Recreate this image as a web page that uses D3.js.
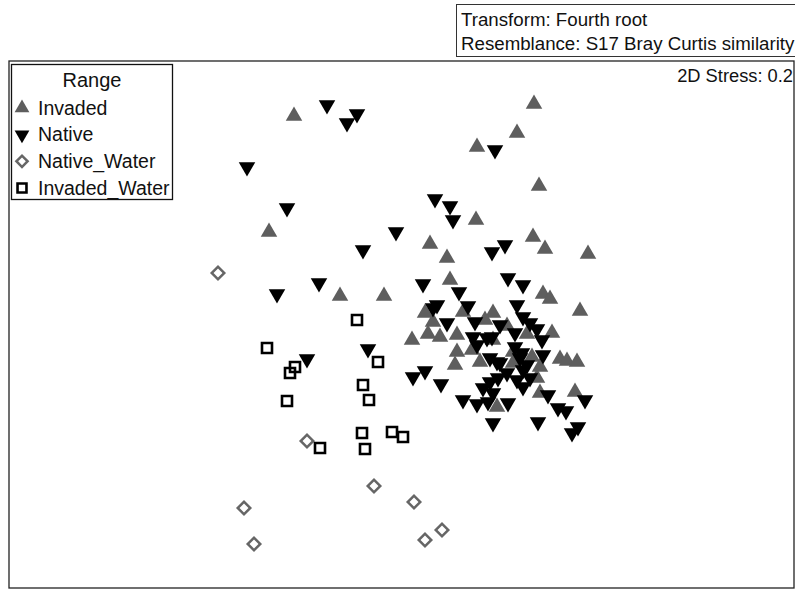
<!DOCTYPE html>
<html>
<head>
<meta charset="utf-8">
<script src="https://cdn.jsdelivr.net/npm/d3@7"></script>
<style>
  body { margin: 0; background: white; }
  svg text { font-family: "Liberation Sans", Arial, Helvetica, sans-serif; fill: #111; }
</style>
</head>
<body>
<svg id="plot"></svg>
<script>
// NMDS ordination coordinates [MDS1, MDS2]
const invaded = [
  [-1.06, 1.84], [1.34, 1.96], [1.17, 1.67], [0.77, 1.53], [1.39, 1.14], [-1.31, 0.68],
  [0.76, 0.80], [0.30, 0.56], [0.47, 0.42], [1.33, 0.63], [1.45, 0.51], [1.88, 0.46],
  [-0.60, 0.04], [-0.16, 0.04], [0.50, 0.20], [1.43, 0.06], [1.50, 0.01], [1.80, -0.11],
  [0.25, -0.13], [0.33, -0.22], [0.63, -0.12], [0.93, -0.13], [0.12, -0.40], [0.28, -0.34],
  [0.40, -0.37], [0.57, -0.35], [0.85, -0.20], [1.07, -0.26], [1.27, -0.34], [1.52, -0.33],
  [0.93, -0.40], [0.57, -0.52], [0.55, -0.65], [0.72, -0.50], [1.13, -0.52], [1.13, -0.63],
  [1.32, -0.57], [1.40, -0.67], [1.60, -0.59], [1.67, -0.61], [1.77, -0.62], [1.37, -0.78],
  [1.40, -0.93], [1.75, -0.92], [0.97, -1.07], [0.80, -0.62]
];

const native = [
  [-0.73, 1.95], [-0.43, 1.86], [-0.53, 1.77], [0.95, 1.50], [-1.53, 1.33], [-1.13, 0.92],
  [0.35, 1.01], [0.50, 0.94], [0.53, 0.80], [-0.04, 0.68], [-0.37, 0.50], [-0.81, 0.17],
  [-1.23, 0.06], [0.92, 0.48], [1.05, 0.55], [0.23, 0.16], [0.59, 0.08], [1.08, 0.22],
  [1.23, 0.15], [0.37, -0.05], [0.68, -0.06], [1.17, -0.05], [-0.32, -0.49], [-0.93, -0.59],
  [0.33, -0.08], [0.47, -0.23], [0.75, -0.22], [1.23, -0.17], [1.30, -0.23], [1.37, -0.29],
  [1.00, -0.25], [0.73, -0.37], [0.87, -0.38], [1.15, -0.33], [1.42, -0.40], [0.77, -0.45],
  [1.15, -0.47], [1.22, -0.53], [1.43, -0.55], [0.90, -0.58], [0.97, -0.62], [1.20, -0.58],
  [1.23, -0.70], [1.30, -0.78], [1.07, -0.73], [0.13, -0.77], [0.25, -0.71], [0.41, -0.84],
  [0.83, -0.88], [0.90, -0.82], [0.98, -0.78], [1.17, -0.80], [1.23, -0.87], [0.63, -1.00],
  [0.77, -1.04], [0.88, -1.02], [0.93, -0.93], [1.08, -1.03], [1.48, -0.95], [1.58, -1.08],
  [1.66, -1.11], [1.85, -1.00], [0.93, -1.23], [1.38, -1.22], [1.78, -1.27], [1.72, -1.33],
  [0.92, -0.37], [1.00, -0.63], [1.27, -0.65]
];

const nativeWater = [
  [-1.82, 0.27], [-0.93, -1.41], [-0.26, -1.86], [0.14, -2.02],
  [-1.56, -2.08], [-1.46, -2.44], [0.25, -2.40], [0.42, -2.30]
];

const invadedWater = [
  [-0.43, -0.20], [-1.33, -0.48], [-0.22, -0.62], [-1.05, -0.67], [-1.10, -0.73],
  [-1.13, -1.01], [-0.37, -0.85], [-0.31, -1.00], [-0.38, -1.33], [-0.35, -1.49],
  [-0.08, -1.32], [0.03, -1.37], [-0.80, -1.48]
];

const groups = ["Invaded", "Native", "Native_Water", "Invaded_Water"];
const headerLines = ["Transform: Fourth root", "Resemblance: S17 Bray Curtis similarity"];
const stressLabel = "2D Stress: 0.2";

const width = 795;
const height = 589;
const frame = {left: 9, top: 61, right: 794, bottom: 588};

const svg = d3.select("#plot")
    .attr("width", width)
    .attr("height", height);

const xScale = d3.scaleLinear()
    .domain([-3.91, 3.94])
    .range([frame.left, frame.right]);

const yScale = d3.scaleLinear()
    .domain([2.39, -2.88])
    .range([frame.top, frame.bottom]);

// symbol styles per group
const styles = {
  Invaded:       {type: d3.symbolTriangle, size: 118, rot: 0,   fill: "#5e5e5e", stroke: "none", sw: 0},
  Native:        {type: d3.symbolTriangle, size: 118, rot: 180, fill: "#000",    stroke: "none", sw: 0},
  Native_Water:  {type: d3.symbolSquare,   size: 78,  rot: 45,  fill: "none",    stroke: "#666", sw: 2.5},
  Invaded_Water: {type: d3.symbolSquare,   size: 100, rot: 0,   fill: "none",    stroke: "#000", sw: 2.6}
};

function drawGroup(data, name) {
  const s = styles[name];
  svg.append("g")
    .attr("class", name)
    .selectAll("path")
    .data(data)
    .enter()
    .append("path")
      .attr("d", d3.symbol().type(s.type).size(s.size))
      .attr("transform", (d) => "translate(" + xScale(d[0]) + "," + yScale(d[1]) + ") rotate(" + s.rot + ")")
      .attr("fill", s.fill)
      .attr("stroke", s.stroke)
      .attr("stroke-width", s.sw);
}

// frame
svg.append("rect")
  .attr("x", frame.left)
  .attr("y", frame.top)
  .attr("width", frame.right - frame.left)
  .attr("height", frame.bottom - frame.top)
  .attr("fill", "none")
  .attr("stroke", "#222")
  .attr("stroke-width", 1.3);

drawGroup(invaded, "Invaded");
drawGroup(native, "Native");
drawGroup(nativeWater, "Native_Water");
drawGroup(invadedWater, "Invaded_Water");

// header box
const header = svg.append("g");
header.append("rect")
  .attr("x", 456.5).attr("y", 4.5)
  .attr("width", 345).attr("height", 52)
  .attr("fill", "white")
  .attr("stroke", "#333")
  .attr("stroke-width", 1);
header.selectAll("text")
  .data(headerLines)
  .enter()
  .append("text")
    .attr("x", 461)
    .attr("y", (d, i) => 26 + i * 24)
    .attr("font-size", "18.7px")
    .text((d) => d);

// stress
svg.append("text")
  .attr("x", 793)
  .attr("y", 82)
  .attr("text-anchor", "end")
  .attr("font-size", "18.3px")
  .text(stressLabel);

// legend
const legend = svg.append("g");
legend.append("rect")
  .attr("x", 11.5).attr("y", 64.5)
  .attr("width", 161).attr("height", 135)
  .attr("fill", "white")
  .attr("stroke", "#111")
  .attr("stroke-width", 1.3);
legend.append("text")
  .attr("x", 92)
  .attr("y", 87)
  .attr("text-anchor", "middle")
  .attr("font-size", "20px")
  .text("Range");

const legendScale = d3.scalePoint()
  .domain(groups)
  .range([108, 188]);

const items = legend.selectAll("g.item")
  .data(groups)
  .enter()
  .append("g")
    .attr("class", "item")
    .attr("transform", (d) => "translate(0," + legendScale(d) + ")");

items.append("path")
  .attr("d", (d) => d3.symbol().type(styles[d].type).size(styles[d].size * 0.8)())
  .attr("transform", (d) => "translate(22,0) rotate(" + styles[d].rot + ")")
  .attr("fill", (d) => styles[d].fill)
  .attr("stroke", (d) => styles[d].stroke)
  .attr("stroke-width", (d) => styles[d].sw);

items.append("text")
  .attr("x", 38)
  .attr("y", 6.5)
  .attr("font-size", "19.5px")
  .text((d) => d);
</script>
</body>
</html>
